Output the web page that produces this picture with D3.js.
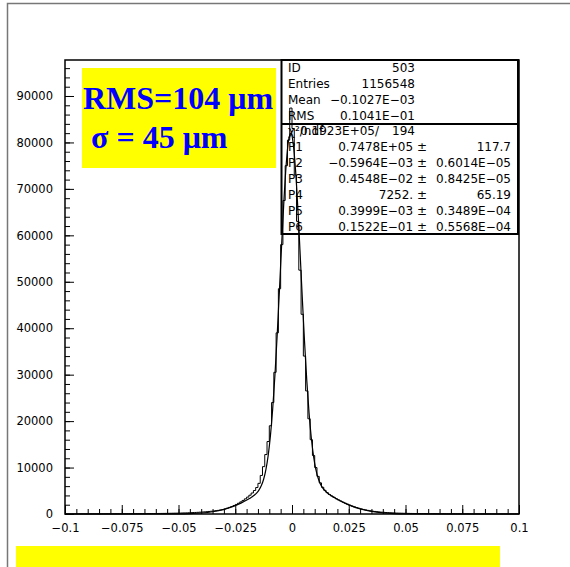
<!DOCTYPE html>
<html>
<head>
<meta charset="utf-8">
<script src="https://cdn.jsdelivr.net/npm/d3@7"></script>
<style>
body { margin: 0; background: #fff; }
svg { display: block; }
</style>
</head>
<body>
<div id="chart"></div>
<script>
// Histogramme: 200 bins de -0.1 a 0.1
var binLow = -0.1;
var binWidth = 0.001;
var counts = [
  18, 20, 19, 22, 21, 24, 23, 25, 27, 26,
  29, 28, 31, 33, 32, 35, 37, 36, 40, 42,
  41, 45, 47, 49, 52, 51, 56, 58, 61, 64,
  66, 70, 73, 77, 80, 84, 89, 93, 98, 104,
  109, 116, 122, 129, 137, 146, 155, 165, 176, 188,
  201, 215, 231, 248, 267, 288, 311, 336, 363, 393,
  426, 462, 502, 546, 595, 649, 708, 774, 848, 930,
  1080, 1240, 1420, 1610, 1820, 2060, 2320, 2610, 2920, 3260,
  3640, 4050, 4520, 5060, 5700, 6600, 8300, 10200, 12800, 15600,
  19000, 24000, 30500, 39000, 48500, 58000, 67500, 75000, 80500, 87400,
  83000, 73000, 63000, 52500, 43000, 34000, 26500, 20500, 16000, 12600,
  10000, 8100, 6700, 5750, 5100, 4600, 4200, 3880, 3590, 3300,
  3040, 2790, 2550, 2320, 2110, 1900, 1710, 1540, 1380, 1230,
  1100, 980, 870, 775, 690, 615, 550, 490, 440, 395,
  355, 320, 290, 262, 238, 217, 198, 181, 166, 153,
  141, 131, 121, 113, 105, 98, 92, 86, 81, 76,
  72, 68, 64, 61, 58, 55, 52, 50, 47, 45,
  43, 41, 39, 37, 36, 34, 33, 31, 30, 29,
  28, 27, 26, 25, 24, 23, 22, 22, 21, 20,
  19, 19, 18, 18, 17, 17, 16, 16, 15, 15
];

// Courbe du fit (points lus)
var fitX = [-0.1, -0.09, -0.08, -0.07, -0.06, -0.05, -0.045, -0.04, -0.035, -0.03, -0.025, -0.0225,
  -0.0195, -0.0185, -0.0175, -0.0165, -0.0155, -0.0145, -0.0135, -0.0125, -0.0115, -0.0105,
  -0.0095, -0.0085, -0.0075, -0.0065, -0.0055, -0.0045, -0.0035, -0.0025, -0.0015, -0.0005,
  0.0005, 0.0015, 0.0025, 0.0035, 0.0045, 0.0055, 0.0065, 0.0075, 0.0085, 0.0095,
  0.0105, 0.0115, 0.0125, 0.0135, 0.0145, 0.0155, 0.0165, 0.0175, 0.0185, 0.0195,
  0.0225, 0.025, 0.03, 0.035, 0.04, 0.045, 0.05, 0.06, 0.07, 0.08, 0.09, 0.1];
var fitY = [0, 0, 0, 0.2, 3, 30, 85, 215, 485, 987, 1801, 2340,
  3103, 3390, 3704, 4080, 4550, 5190, 6118, 7490, 9570, 12585,
  16863, 22645, 29967, 38774, 48526, 58636, 67970, 75620, 80485, 82000,
  79872, 74463, 66483, 56900, 46855, 37285, 28824, 21835, 16417, 12424,
  9618, 7740, 6470, 5621, 5027, 4573, 4207, 3883, 3587, 3300,
  2525, 1965, 1094, 548, 246, 99, 36, 3, 0.2, 0, 0, 0];

// Ticks
var xTicks = [-0.1, -0.075, -0.05, -0.025, 0, 0.025, 0.05, 0.075, 0.1];
var xTickLabels = ["\u22120.1", "\u22120.075", "\u22120.05", "\u22120.025", "0", "0.025", "0.05", "0.075", "0.1"];
var yTicks = [0, 10000, 20000, 30000, 40000, 50000, 60000, 70000, 80000, 90000];

// Boite de stats
var statLabels = ["ID", "Entries", "Mean", "RMS"];
var statValues = ["503", "1156548", "\u22120.1027E\u221203", "0.1041E\u221201"];
var chiLabel = "\u03c7\u00b2/ndf";
var chiValue = "0.1923E+05/";
var ndfValue = "194";
var parNames = ["P1", "P2", "P3", "P4", "P5", "P6"];
var parValues = ["0.7478E+05 \u00b1", "\u22120.5964E\u221203 \u00b1", "0.4548E\u221202 \u00b1", "7252. \u00b1", "0.3999E\u221203 \u00b1", "0.1522E\u221201 \u00b1"];
var parErrors = ["117.7", "0.6014E\u221205", "0.8425E\u221205", "65.19", "0.3489E\u221204", "0.5568E\u221204"];

// Tamanho
var w = 570, h = 567;
var margin = {top: 60, right: 51, bottom: 53, left: 65};
var width = w - margin.left - margin.right;
var height = h - margin.top - margin.bottom;

var svg = d3.select("#chart").append("svg")
  .attr("width", w).attr("height", h)
  .style("font-family", "'DejaVu Sans', sans-serif");

// cadre gris de la page
svg.append("path")
  .attr("d", "M7.5,567 L7.5,3.5 L570,3.5")
  .attr("fill", "none").attr("stroke", "#777").attr("stroke-width", 1.5);

var g = svg.append("g")
  .attr("transform", "translate(" + margin.left + "," + margin.top + ")");

var x = d3.scaleLinear().domain([-0.1, 0.1]).range([0, width]);
var y = d3.scaleLinear().domain([0, 97750]).range([height, 0]);

// Eixos: ticks vers l'interieur
var yMinor = d3.range(0, 97001, 2000);
g.append("g")
  .call(d3.axisLeft(y).tickValues(yMinor).tickSize(-5).tickSizeOuter(0).tickFormat(""))
  .call(function(s) { s.select(".domain").remove(); });
g.append("g")
  .call(d3.axisLeft(y).tickValues(yTicks).tickSize(-9).tickSizeOuter(0).tickPadding(12)
    .tickFormat(function(d) { return d; }))
  .call(function(s) { s.select(".domain").remove(); })
  .selectAll("text").attr("font-size", "11.5px").attr("font-family", "'DejaVu Sans', sans-serif");

var xMinor = d3.range(-100, 101, 5).map(function(d) { return d / 1000; });
g.append("g").attr("transform", "translate(0," + height + ")")
  .call(d3.axisBottom(x).tickValues(xMinor).tickSize(-5).tickSizeOuter(0).tickFormat(""))
  .call(function(s) { s.select(".domain").remove(); });
g.append("g").attr("transform", "translate(0," + height + ")")
  .call(d3.axisBottom(x).tickValues(xTicks).tickSize(-9).tickSizeOuter(0).tickPadding(10)
    .tickFormat(function(d, i) { return xTickLabels[i]; }))
  .call(function(s) { s.select(".domain").remove(); })
  .selectAll("text").attr("font-size", "11.5px").attr("font-family", "'DejaVu Sans', sans-serif");

// cadre du plot
g.append("rect")
  .attr("x", 0).attr("y", 0).attr("width", width).attr("height", height)
  .attr("fill", "none").attr("stroke", "#000").attr("stroke-width", 1.5);

// Histogramme en escalier
var steps = [[binLow, 0]];
counts.forEach(function(c, i) {
  var lo = binLow + i * binWidth;
  steps.push([lo, c]);
  steps.push([lo + binWidth, c]);
});
g.append("path")
  .datum(steps)
  .attr("fill", "none").attr("stroke", "#000").attr("stroke-width", 1)
  .attr("d", d3.line().x(function(d) { return x(d[0]); }).y(function(d) { return y(d[1]); }));

// Fit
g.append("path")
  .datum(fitX.map(function(v, i) { return [v, fitY[i]]; }))
  .attr("fill", "none").attr("stroke", "#000").attr("stroke-width", 1.2)
  .attr("d", d3.line().curve(d3.curveMonotoneX)
    .x(function(d) { return x(d[0]); }).y(function(d) { return y(d[1]); }));

// Boite de stats
var bx = 281.5, bRight = 518, bTop = 60, bMid = 124, bBot = 234;
var box = svg.append("g").attr("font-size", "12px");
box.append("rect").attr("x", bx).attr("y", bTop).attr("width", bRight - bx).attr("height", bBot - bTop)
  .attr("fill", "none").attr("stroke", "#000").attr("stroke-width", 2);
box.append("line").attr("x1", bx).attr("x2", bRight).attr("y1", bMid).attr("y2", bMid)
  .attr("stroke", "#000").attr("stroke-width", 2);
statLabels.forEach(function(l, i) {
  var yy = 72 + i * 16;
  box.append("text").attr("x", 288).attr("y", yy).text(l);
  box.append("text").attr("x", 415).attr("y", yy).attr("text-anchor", "end").text(statValues[i]);
});
// comme dans l'original, le label chi2 est recouvert par la valeur
box.append("text").attr("x", 288).attr("y", 135).text(chiLabel);
box.append("text").attr("x", 379).attr("y", 135).attr("text-anchor", "end").text(chiValue);
box.append("text").attr("x", 415).attr("y", 135).attr("text-anchor", "end").text(ndfValue);
parNames.forEach(function(p, i) {
  var yy = 151 + i * 15.9;
  box.append("text").attr("x", 288).attr("y", yy).text(p);
  box.append("text").attr("x", 427).attr("y", yy).attr("text-anchor", "end").text(parValues[i]);
  box.append("text").attr("x", 511).attr("y", yy).attr("text-anchor", "end").text(parErrors[i]);
});

// Cadre jaune avec RMS et sigma
svg.append("rect").attr("x", 82).attr("y", 68).attr("width", 194).attr("height", 100).attr("fill", "#ffff00");
var lab = svg.append("g")
  .attr("font-family", "'Liberation Serif', 'Times New Roman', serif")
  .attr("font-weight", "bold").attr("font-size", "32px").attr("fill", "#0000ff");
lab.append("text").attr("x", 83).attr("y", 109).text("RMS=104 \u03bcm");
lab.append("text").attr("x", 91).attr("y", 148).text("\u03c3 = 45 \u03bcm");

// Bande jaune du bas
svg.append("rect").attr("x", 16).attr("y", 546).attr("width", 484).attr("height", 21).attr("fill", "#ffff00");
</script>
</body>
</html>
